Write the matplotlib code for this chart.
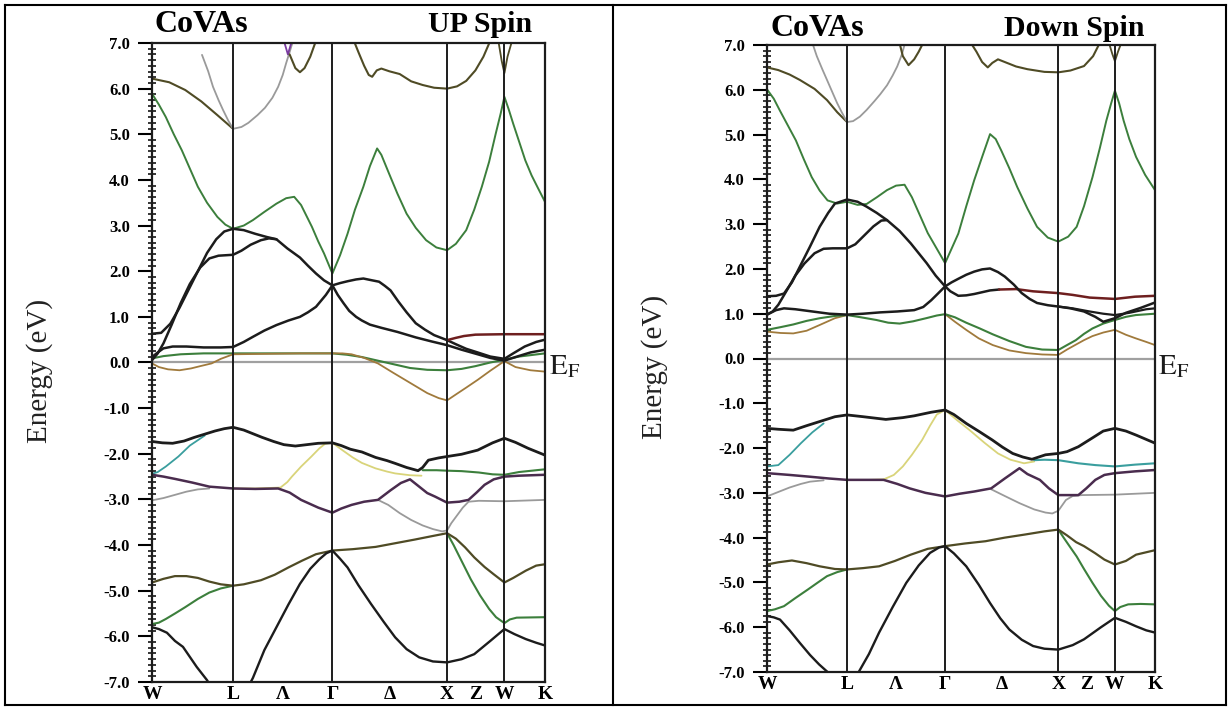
import matplotlib
matplotlib.use("Agg")
import matplotlib.pyplot as plt
from matplotlib.lines import Line2D
from matplotlib.ticker import MultipleLocator, FormatStrFormatter

plt.rcParams['mathtext.fontset'] = 'stix'

# k-path node positions (W, L, Gamma, X, W, K) and tick labels
K_NODES = [0.0, 0.707, 1.573, 2.573, 3.073, 3.427]
K_TICKS = [0.0, 0.707, 1.14, 1.573, 2.073, 2.573, 2.823, 3.073, 3.427]
K_LABELS = ['W', 'L', 'Λ', 'Γ', 'Δ', 'X', 'Z', 'W', 'K']

# ---------------- UP spin bands (k, E) ----------------
up_olive_wl = [(0, 6.22), (0.15, 6.14), (0.29, 5.97), (0.43, 5.72), (0.57, 5.42), (0.707, 5.12)]
up_gray = [(0.436, 6.74), (0.49, 6.38), (0.532, 6.04), (0.58, 5.75), (0.62, 5.53), (0.665, 5.3),
           (0.707, 5.12), (0.78, 5.16), (0.84, 5.25), (0.92, 5.42), (0.985, 5.58), (1.05, 5.8),
           (1.1, 6.04), (1.14, 6.3), (1.17, 6.56), (1.2, 6.8), (1.23, 7.05)]
up_purple_v = [(1.15, 7.05), (1.185, 6.75), (1.22, 7.05)]
up_olive_lam = [(1.2, 6.75), (1.25, 6.45), (1.29, 6.36), (1.33, 6.45), (1.38, 6.7), (1.43, 7.05)]
up_olive_gx = [(1.76, 7.05), (1.8, 6.8), (1.85, 6.5), (1.89, 6.3), (1.92, 6.26), (1.96, 6.4),
               (2.0, 6.44), (2.07, 6.38), (2.16, 6.32), (2.26, 6.16), (2.36, 6.08), (2.46, 6.02),
               (2.573, 6.0), (2.66, 6.05), (2.74, 6.17), (2.82, 6.4), (2.89, 6.7), (2.95, 7.05)]
up_olive_w = [(3.02, 7.05), (3.05, 6.6), (3.073, 6.34), (3.1, 6.7), (3.14, 7.05)]
up_green = [(0, 5.89), (0.06, 5.65), (0.12, 5.38), (0.19, 5.0), (0.26, 4.65), (0.33, 4.25),
            (0.4, 3.85), (0.48, 3.5), (0.57, 3.19), (0.64, 3.02), (0.707, 2.93), (0.8, 3.0),
            (0.88, 3.12), (0.98, 3.3), (1.085, 3.48), (1.17, 3.6), (1.24, 3.63), (1.3, 3.45),
            (1.395, 2.97), (1.45, 2.65), (1.5, 2.39), (1.573, 1.95), (1.64, 2.35), (1.705, 2.82),
            (1.77, 3.35), (1.843, 3.85), (1.9, 4.3), (1.963, 4.69), (2.0, 4.55), (2.067, 4.14),
            (2.14, 3.7), (2.22, 3.26), (2.3, 2.95), (2.39, 2.68), (2.48, 2.52), (2.573, 2.46),
            (2.65, 2.6), (2.74, 2.9), (2.81, 3.35), (2.876, 3.85), (2.94, 4.4), (2.997, 5.01),
            (3.04, 5.45), (3.073, 5.82), (3.11, 5.55), (3.15, 5.23), (3.2, 4.85), (3.255, 4.43),
            (3.31, 4.1), (3.36, 3.85), (3.427, 3.52)]
up_black1 = [(0, 0.63), (0.08, 0.65), (0.16, 0.85), (0.24, 1.2), (0.32, 1.6), (0.4, 2.0),
             (0.48, 2.4), (0.56, 2.7), (0.63, 2.87), (0.707, 2.93), (0.8, 2.9), (0.9, 2.82),
             (1.0, 2.75), (1.085, 2.7), (1.18, 2.5), (1.29, 2.3), (1.36, 2.12), (1.43, 1.95),
             (1.5, 1.8), (1.573, 1.69), (1.64, 1.74), (1.705, 1.78), (1.78, 1.82), (1.843, 1.84),
             (1.92, 1.8), (1.98, 1.77), (2.03, 1.68), (2.08, 1.58), (2.15, 1.33), (2.22, 1.1),
             (2.3, 0.86), (2.38, 0.72), (2.46, 0.6), (2.573, 0.49)]
up_red = [(2.573, 0.49), (2.65, 0.54), (2.72, 0.58), (2.82, 0.61), (3.073, 0.62), (3.427, 0.62)]
up_black2 = [(0, 0.05), (0.05, 0.2), (0.1, 0.42), (0.17, 0.82), (0.25, 1.3), (0.33, 1.72),
             (0.42, 2.08), (0.5, 2.28), (0.58, 2.34), (0.707, 2.36), (0.78, 2.45), (0.86, 2.58),
             (0.95, 2.68), (1.02, 2.72), (1.085, 2.7)]
up_black3 = [(0, 0.12), (0.05, 0.22), (0.1, 0.31), (0.18, 0.35), (0.3, 0.35), (0.45, 0.33),
             (0.6, 0.33), (0.707, 0.34), (0.8, 0.45), (0.878, 0.56), (0.98, 0.7), (1.085, 0.82),
             (1.19, 0.92), (1.29, 1.0), (1.36, 1.1), (1.43, 1.22), (1.516, 1.48), (1.573, 1.69),
             (1.62, 1.48), (1.67, 1.3), (1.72, 1.13), (1.78, 1.0), (1.83, 0.92), (1.9, 0.83),
             (2.0, 0.76), (2.14, 0.67), (2.3, 0.55), (2.44, 0.46), (2.573, 0.38), (2.7, 0.28),
             (2.84, 0.18), (2.95, 0.1), (3.073, 0.04), (3.17, 0.12), (3.3, 0.22), (3.427, 0.28)]
up_black4 = [(2.573, 0.49), (2.65, 0.4), (2.74, 0.3), (2.84, 0.22), (2.95, 0.13), (3.073, 0.08),
             (3.15, 0.2), (3.25, 0.35), (3.35, 0.45), (3.427, 0.5)]
up_green_ef = [(0, 0.09), (0.1, 0.14), (0.25, 0.18), (0.45, 0.2), (0.707, 0.2), (1.0, 0.2),
               (1.3, 0.2), (1.573, 0.2), (1.7, 0.17), (1.83, 0.12), (1.97, 0.04), (2.11, -0.04),
               (2.25, -0.12), (2.4, -0.16), (2.573, -0.17), (2.7, -0.14), (2.82, -0.08),
               (2.95, 0.0), (3.073, 0.06), (3.2, 0.13), (3.427, 0.2)]
up_orange_ef = [(0, -0.02), (0.06, -0.1), (0.14, -0.15), (0.24, -0.17), (0.34, -0.13),
                (0.42, -0.08), (0.52, -0.02), (0.6, 0.08), (0.707, 0.18), (1.0, 0.19),
                (1.3, 0.2), (1.573, 0.2), (1.66, 0.2), (1.74, 0.18), (1.85, 0.1), (1.97, -0.02),
                (2.1, -0.22), (2.26, -0.46), (2.4, -0.67), (2.5, -0.78), (2.573, -0.83),
                (2.65, -0.7), (2.74, -0.55), (2.84, -0.38), (2.95, -0.18), (3.073, 0.03),
                (3.17, -0.1), (3.3, -0.17), (3.427, -0.2)]
up_black_vb = [(0, -1.73), (0.09, -1.76), (0.18, -1.77), (0.28, -1.72), (0.37, -1.64),
               (0.46, -1.57), (0.55, -1.5), (0.63, -1.45), (0.707, -1.42), (0.8, -1.48),
               (0.88, -1.56), (0.96, -1.64), (1.06, -1.73), (1.15, -1.8), (1.25, -1.83),
               (1.35, -1.8), (1.45, -1.77), (1.573, -1.76), (1.65, -1.82), (1.73, -1.9),
               (1.83, -1.96), (1.95, -2.08), (2.05, -2.15), (2.12, -2.21), (2.22, -2.3),
               (2.32, -2.37), (2.36, -2.3), (2.41, -2.14), (2.5, -2.09), (2.573, -2.06),
               (2.7, -2.01), (2.84, -1.92), (2.97, -1.76), (3.073, -1.66), (3.17, -1.75),
               (3.28, -1.88), (3.427, -2.03)]
up_cyan_wl = [(0, -2.44), (0.05, -2.4), (0.12, -2.28), (0.23, -2.06), (0.33, -1.82), (0.46, -1.6)]
up_purple_vb = [(0, -2.46), (0.1, -2.5), (0.2, -2.55), (0.35, -2.63), (0.5, -2.72), (0.707, -2.76),
                (0.9, -2.77), (1.1, -2.76), (1.2, -2.85), (1.3, -3.01), (1.45, -3.18),
                (1.573, -3.29), (1.65, -3.2), (1.74, -3.12), (1.85, -3.05), (1.97, -3.01),
                (2.08, -2.8), (2.17, -2.64), (2.25, -2.56), (2.33, -2.72), (2.4, -2.86),
                (2.47, -2.94), (2.573, -3.07), (2.68, -3.05), (2.76, -3.01), (2.83, -2.85),
                (2.9, -2.68), (2.98, -2.56), (3.073, -2.5), (3.2, -2.48), (3.427, -2.46)]
up_yellow_l = [(0.707, -2.76), (0.9, -2.76), (1.12, -2.74), (1.18, -2.62), (1.22, -2.5),
               (1.3, -2.28), (1.39, -2.06), (1.46, -1.88), (1.51, -1.78), (1.573, -1.76)]
up_yellow_gx = [(1.573, -1.76), (1.66, -1.92), (1.75, -2.08), (1.83, -2.2), (1.95, -2.32),
                (2.05, -2.39), (2.12, -2.43), (2.25, -2.47), (2.35, -2.48)]
up_green_vb = [(2.36, -2.36), (2.48, -2.36), (2.573, -2.37), (2.7, -2.38), (2.85, -2.41),
               (2.97, -2.45), (3.073, -2.46), (3.2, -2.4), (3.427, -2.34)]
up_gray_wl = [(0, -3.02), (0.1, -2.97), (0.2, -2.9), (0.3, -2.83), (0.4, -2.78), (0.5, -2.76)]
up_gray_gx = [(1.97, -3.01), (2.06, -3.12), (2.16, -3.3), (2.26, -3.45), (2.36, -3.57),
              (2.45, -3.65), (2.53, -3.7), (2.573, -3.68), (2.61, -3.52), (2.66, -3.35),
              (2.71, -3.18), (2.76, -3.05), (2.85, -3.03), (3.073, -3.04), (3.427, -3.01)]
up_olive_d1 = [(0, -4.82), (0.1, -4.74), (0.2, -4.68), (0.3, -4.68), (0.4, -4.72), (0.5, -4.8),
               (0.6, -4.86), (0.707, -4.89), (0.8, -4.86), (0.95, -4.77), (1.07, -4.65),
               (1.19, -4.49), (1.31, -4.34), (1.43, -4.2), (1.573, -4.12), (1.75, -4.09),
               (1.95, -4.04), (2.12, -3.96), (2.29, -3.88), (2.45, -3.8), (2.573, -3.74),
               (2.65, -3.86), (2.73, -4.05), (2.81, -4.27), (2.9, -4.48), (2.98, -4.64),
               (3.073, -4.82), (3.15, -4.72), (3.26, -4.56), (3.35, -4.45), (3.427, -4.42)]
up_green_d2 = [(0, -5.73), (0.06, -5.7), (0.12, -5.62), (0.2, -5.5), (0.29, -5.36), (0.4, -5.18),
               (0.5, -5.04), (0.6, -4.95), (0.707, -4.89)]
up_green_xw = [(2.573, -3.74), (2.63, -4.0), (2.7, -4.35), (2.78, -4.75), (2.86, -5.1),
               (2.94, -5.4), (3.0, -5.58), (3.073, -5.71), (3.12, -5.63), (3.18, -5.59),
               (3.427, -5.58)]
up_black_d3a = [(0, -5.8), (0.06, -5.84), (0.13, -5.92), (0.2, -6.1), (0.27, -6.23),
                (0.33, -6.45), (0.39, -6.67), (0.48, -6.96), (0.55, -7.25)]
up_black_d3b = [(0.82, -7.2), (0.88, -6.91), (0.98, -6.3), (1.085, -5.8), (1.19, -5.3),
                (1.29, -4.85), (1.38, -4.52), (1.46, -4.31), (1.52, -4.18), (1.573, -4.12),
                (1.64, -4.3), (1.705, -4.49), (1.8, -4.88), (1.91, -5.29), (2.02, -5.68),
                (2.12, -6.02), (2.22, -6.28), (2.33, -6.46), (2.45, -6.55), (2.573, -6.57),
                (2.7, -6.5), (2.81, -6.39), (2.95, -6.1), (3.073, -5.84), (3.16, -5.95),
                (3.26, -6.06), (3.35, -6.14), (3.427, -6.2)]

# ---------------- DOWN spin bands (k, E) ----------------
dn_olive_wl = [(0, 6.5), (0.1, 6.44), (0.2, 6.34), (0.29, 6.22), (0.42, 6.02), (0.53, 5.77),
               (0.62, 5.5), (0.707, 5.28)]
dn_gray = [(0.4, 7.05), (0.44, 6.75), (0.49, 6.45), (0.53, 6.22), (0.58, 5.93), (0.62, 5.7),
           (0.66, 5.5), (0.707, 5.28), (0.76, 5.3), (0.82, 5.4), (0.88, 5.55), (0.95, 5.75),
           (1.0, 5.9), (1.06, 6.1), (1.11, 6.32), (1.15, 6.52), (1.19, 6.78), (1.22, 7.05)]
dn_olive_lam = [(1.17, 7.05), (1.2, 6.75), (1.25, 6.55), (1.3, 6.68), (1.34, 6.85), (1.38, 7.05)]
dn_olive_gx = [(1.8, 7.05), (1.85, 6.85), (1.9, 6.62), (1.95, 6.5), (1.99, 6.6), (2.04, 6.68),
               (2.12, 6.6), (2.2, 6.52), (2.3, 6.46), (2.45, 6.4), (2.573, 6.39), (2.68, 6.43),
               (2.8, 6.53), (2.88, 6.75), (2.94, 7.05)]
dn_olive_w = [(3.02, 7.05), (3.05, 6.8), (3.073, 6.64), (3.1, 6.85), (3.13, 7.05)]
dn_green = [(0, 6.01), (0.06, 5.8), (0.115, 5.53), (0.185, 5.2), (0.255, 4.87), (0.325, 4.45),
            (0.395, 4.05), (0.465, 3.75), (0.535, 3.53), (0.62, 3.46), (0.707, 3.5), (0.8, 3.43),
            (0.88, 3.45), (0.97, 3.6), (1.06, 3.76), (1.14, 3.86), (1.215, 3.88), (1.28, 3.6),
            (1.35, 3.2), (1.42, 2.8), (1.5, 2.45), (1.573, 2.13), (1.63, 2.45), (1.69, 2.79),
            (1.76, 3.4), (1.83, 3.98), (1.9, 4.5), (1.97, 5.01), (2.02, 4.9), (2.07, 4.64),
            (2.14, 4.25), (2.21, 3.83), (2.3, 3.35), (2.385, 2.94), (2.48, 2.7), (2.573, 2.61),
            (2.66, 2.72), (2.735, 2.94), (2.8, 3.4), (2.875, 4.05), (2.94, 4.7), (2.997, 5.31),
            (3.04, 5.7), (3.073, 5.98), (3.11, 5.7), (3.15, 5.31), (3.2, 4.9), (3.26, 4.5),
            (3.34, 4.1), (3.427, 3.76)]
dn_black1 = [(0, 1.39), (0.08, 1.4), (0.15, 1.45), (0.22, 1.7), (0.29, 2.05), (0.38, 2.5),
             (0.465, 2.94), (0.54, 3.25), (0.6, 3.46), (0.707, 3.55), (0.8, 3.5), (0.88, 3.39),
             (0.97, 3.25), (1.06, 3.09), (1.17, 2.85), (1.27, 2.57), (1.34, 2.35), (1.41, 2.13),
             (1.49, 1.85), (1.573, 1.61), (1.63, 1.7), (1.69, 1.78), (1.76, 1.87), (1.83, 1.94),
             (1.9, 1.99), (1.97, 2.01), (2.04, 1.93), (2.1, 1.83), (2.18, 1.65), (2.25, 1.46),
             (2.32, 1.33), (2.385, 1.24), (2.48, 1.19), (2.573, 1.16), (2.68, 1.12), (2.8, 1.05),
             (2.9, 0.93), (2.97, 0.82), (3.073, 0.9), (3.17, 1.02), (3.3, 1.13), (3.427, 1.25)]
dn_black2 = [(0, 0.98), (0.05, 1.05), (0.1, 1.2), (0.17, 1.5), (0.25, 1.85), (0.33, 2.12),
             (0.42, 2.35), (0.5, 2.45), (0.58, 2.46), (0.707, 2.46), (0.78, 2.55), (0.86, 2.75),
             (0.94, 2.95), (1.01, 3.08), (1.06, 3.09)]
dn_black3 = [(0, 0.98), (0.08, 1.08), (0.15, 1.12), (0.25, 1.1), (0.4, 1.05), (0.55, 1.0),
             (0.707, 0.98), (0.85, 1.0), (1.0, 1.03), (1.15, 1.05), (1.3, 1.08), (1.38, 1.15),
             (1.45, 1.3), (1.51, 1.45), (1.573, 1.61), (1.62, 1.5), (1.69, 1.4), (1.76, 1.41),
             (1.83, 1.44), (1.9, 1.48), (1.97, 1.52), (2.05, 1.54)]
dn_red = [(2.05, 1.54), (2.2, 1.55), (2.35, 1.5), (2.573, 1.46), (2.7, 1.42), (2.85, 1.36),
          (3.073, 1.33), (3.25, 1.38), (3.427, 1.4)]
dn_black4 = [(2.573, 1.16), (2.7, 1.12), (2.85, 1.05), (2.97, 1.0), (3.073, 0.97), (3.2, 1.02),
             (3.35, 1.1), (3.427, 1.12)]
dn_green_ef = [(0, 0.64), (0.12, 0.7), (0.232, 0.76), (0.35, 0.84), (0.467, 0.9), (0.6, 0.95),
               (0.707, 0.97), (0.83, 0.92), (0.966, 0.86), (1.07, 0.8), (1.172, 0.78),
               (1.29, 0.83), (1.406, 0.9), (1.5, 0.96), (1.573, 0.99), (1.66, 0.92),
               (1.759, 0.8), (1.88, 0.67), (1.994, 0.54), (2.14, 0.39), (2.287, 0.26),
               (2.43, 0.2), (2.573, 0.19), (2.65, 0.3), (2.728, 0.41), (2.8, 0.55),
               (2.874, 0.67), (2.97, 0.78), (3.073, 0.86), (3.17, 0.93), (3.257, 0.97),
               (3.427, 1.0)]
dn_orange_wl = [(0, 0.6), (0.12, 0.57), (0.232, 0.56), (0.35, 0.62), (0.467, 0.75), (0.6, 0.9),
                (0.707, 0.97)]
dn_orange_gx = [(1.573, 0.99), (1.66, 0.82), (1.759, 0.64), (1.87, 0.45), (1.994, 0.3),
                (2.14, 0.18), (2.287, 0.12), (2.43, 0.09), (2.573, 0.08), (2.65, 0.2),
                (2.728, 0.31), (2.8, 0.41), (2.874, 0.5), (2.97, 0.58), (3.073, 0.64),
                (3.17, 0.53), (3.257, 0.45), (3.35, 0.37), (3.427, 0.3)]
dn_black_vb = [(0, -1.56), (0.1, -1.58), (0.232, -1.6), (0.35, -1.5), (0.5, -1.38), (0.6, -1.3),
               (0.707, -1.26), (0.85, -1.3), (1.05, -1.36), (1.2, -1.32), (1.3, -1.28),
               (1.45, -1.2), (1.573, -1.15), (1.65, -1.25), (1.76, -1.45), (1.88, -1.64),
               (1.99, -1.82), (2.08, -1.98), (2.17, -2.12), (2.26, -2.2), (2.34, -2.25),
               (2.46, -2.15), (2.573, -2.12), (2.65, -2.08), (2.75, -1.97), (2.87, -1.78),
               (2.97, -1.62), (3.073, -1.56), (3.17, -1.62), (3.26, -1.71), (3.427, -1.89)]
dn_cyan_wl = [(0, -2.41), (0.1, -2.38), (0.2, -2.15), (0.3, -1.89), (0.4, -1.65), (0.5, -1.45)]
dn_purple_vb = [(0, -2.56), (0.2, -2.6), (0.38, -2.64), (0.55, -2.68), (0.707, -2.71),
                (0.9, -2.71), (1.03, -2.71), (1.15, -2.8), (1.26, -2.9), (1.4, -3.0),
                (1.573, -3.08), (1.7, -3.02), (1.83, -2.97), (1.98, -2.9), (2.1, -2.68),
                (2.23, -2.45), (2.3, -2.58), (2.41, -2.71), (2.49, -2.9), (2.573, -3.05),
                (2.75, -3.05), (2.82, -2.9), (2.9, -2.71), (2.98, -2.6), (3.073, -2.56),
                (3.25, -2.52), (3.427, -2.49)]
dn_gray_wl = [(0, -3.08), (0.1, -2.98), (0.2, -2.88), (0.3, -2.8), (0.38, -2.75), (0.5, -2.72)]
dn_gray_gx = [(1.98, -2.92), (2.1, -3.07), (2.23, -3.23), (2.36, -3.37), (2.46, -3.44),
              (2.52, -3.46), (2.573, -3.4), (2.64, -3.16), (2.7, -3.07), (2.78, -3.05),
              (3.073, -3.04), (3.427, -3.0)]
dn_yellow_l = [(0.707, -2.71), (0.9, -2.71), (1.03, -2.7), (1.12, -2.6), (1.2, -2.41),
               (1.28, -2.15), (1.37, -1.82), (1.44, -1.5), (1.5, -1.25), (1.573, -1.15)]
dn_yellow_gx = [(1.573, -1.15), (1.68, -1.38), (1.79, -1.6), (1.92, -1.88), (2.04, -2.12),
                (2.15, -2.26), (2.27, -2.34), (2.36, -2.3)]
dn_cyan_xk = [(2.36, -2.27), (2.45, -2.26), (2.573, -2.27), (2.75, -2.34), (2.9, -2.38),
              (3.073, -2.41), (3.25, -2.37), (3.427, -2.34)]
dn_olive_d1 = [(0, -4.6), (0.1, -4.55), (0.22, -4.51), (0.35, -4.57), (0.465, -4.64), (0.6, -4.7),
               (0.707, -4.71), (0.85, -4.68), (0.99, -4.64), (1.13, -4.52), (1.27, -4.38),
               (1.42, -4.25), (1.573, -4.19), (1.75, -4.13), (1.93, -4.08), (2.1, -4.0),
               (2.28, -3.93), (2.45, -3.86), (2.573, -3.82), (2.65, -3.95), (2.73, -4.1),
               (2.8, -4.19), (2.9, -4.35), (2.98, -4.49), (3.073, -4.6), (3.17, -4.52),
               (3.26, -4.38), (3.427, -4.28)]
dn_green_d2 = [(0, -5.64), (0.07, -5.6), (0.15, -5.53), (0.25, -5.35), (0.36, -5.16), (0.45, -5.0),
               (0.53, -4.86), (0.62, -4.77), (0.707, -4.71)]
dn_green_xw = [(2.573, -3.82), (2.62, -4.0), (2.68, -4.22), (2.735, -4.42), (2.8, -4.7),
               (2.875, -5.01), (2.95, -5.3), (3.02, -5.52), (3.073, -5.64), (3.12, -5.55),
               (3.19, -5.49), (3.3, -5.48), (3.427, -5.49)]
dn_black_d3a = [(0, -5.75), (0.06, -5.78), (0.115, -5.83), (0.2, -6.07), (0.29, -6.35),
                (0.38, -6.62), (0.46, -6.83), (0.535, -7.0), (0.6, -7.2)]
dn_black_d3b = [(0.78, -7.2), (0.81, -7.0), (0.9, -6.6), (0.99, -6.12), (1.11, -5.55),
                (1.23, -5.01), (1.34, -4.62), (1.44, -4.34), (1.52, -4.22), (1.573, -4.19),
                (1.65, -4.35), (1.76, -4.64), (1.87, -5.05), (1.97, -5.46), (2.06, -5.8),
                (2.14, -6.05), (2.25, -6.28), (2.35, -6.42), (2.45, -6.48), (2.573, -6.5),
                (2.7, -6.4), (2.8, -6.27), (2.95, -6.0), (3.073, -5.79), (3.17, -5.88),
                (3.26, -5.98), (3.35, -6.07), (3.427, -6.12)]

# colours
BLACK = '#1c1c1c'
OLIVE = '#4f4b25'
GREEN = '#3c7f3c'
GRAY = '#9a9a9a'
PURPLE = '#4a2c4e'
VIOLET = '#7a3aa0'
CYAN = '#3a9e9e'
YELLOW = '#d9d47a'
ORANGE = '#a07a3c'
RED = '#6e1f1f'

up_bands = [
    (up_olive_wl, OLIVE, 1.5), (up_gray, GRAY, 1.3), (up_purple_v, VIOLET, 1.3),
    (up_olive_lam, OLIVE, 1.5), (up_olive_gx, OLIVE, 1.5), (up_olive_w, OLIVE, 1.3),
    (up_green, GREEN, 1.4),
    (up_green_ef, GREEN, 1.5), (up_orange_ef, ORANGE, 1.3),
    (up_black2, BLACK, 1.8), (up_black3, BLACK, 1.8), (up_black4, BLACK, 1.8),
    (up_black1, BLACK, 1.8), (up_red, RED, 1.8),
    (up_gray_wl, GRAY, 1.3), (up_gray_gx, GRAY, 1.3),
    (up_yellow_l, YELLOW, 1.3), (up_yellow_gx, YELLOW, 1.3), (up_green_vb, GREEN, 1.5),
    (up_cyan_wl, CYAN, 1.3), (up_purple_vb, PURPLE, 1.8), (up_black_vb, BLACK, 2.0),
    (up_green_d2, GREEN, 1.5), (up_green_xw, GREEN, 1.5), (up_olive_d1, OLIVE, 1.6),
    (up_black_d3a, BLACK, 1.7), (up_black_d3b, BLACK, 1.7),
]
dn_bands = [
    (dn_olive_wl, OLIVE, 1.5), (dn_gray, GRAY, 1.3), (dn_olive_lam, OLIVE, 1.5),
    (dn_olive_gx, OLIVE, 1.5), (dn_olive_w, OLIVE, 1.3), (dn_green, GREEN, 1.4),
    (dn_orange_wl, ORANGE, 1.3), (dn_orange_gx, ORANGE, 1.3), (dn_green_ef, GREEN, 1.5),
    (dn_black2, BLACK, 1.8), (dn_black3, BLACK, 1.8), (dn_red, RED, 1.8),
    (dn_black4, BLACK, 1.6), (dn_black1, BLACK, 1.8),
    (dn_gray_wl, GRAY, 1.3), (dn_gray_gx, GRAY, 1.3),
    (dn_yellow_l, YELLOW, 1.3), (dn_yellow_gx, YELLOW, 1.3), (dn_cyan_xk, CYAN, 1.5),
    (dn_cyan_wl, CYAN, 1.3), (dn_purple_vb, PURPLE, 1.8), (dn_black_vb, BLACK, 2.0),
    (dn_green_d2, GREEN, 1.5), (dn_green_xw, GREEN, 1.5), (dn_olive_d1, OLIVE, 1.6),
    (dn_black_d3a, BLACK, 1.7), (dn_black_d3b, BLACK, 1.7),
]

W_PX, H_PX = 1231, 708
fig = plt.figure(figsize=(W_PX / 100, H_PX / 100), dpi=100)


def fx(px):
    return px / W_PX


def fy(py):
    return 1 - py / H_PX


SERIF = 'Liberation Serif'


def draw_panel(rect, bands, spin_label, ef_xy, title_y):
    left, top, right, bottom = rect
    ax = fig.add_axes([fx(left), fy(bottom), fx(right - left), fy(top) - fy(bottom)])
    ax.axhline(0, color='#a0a0a0', lw=1.6, zorder=1)
    for pos in K_NODES[1:-1]:
        ax.axvline(pos, color=BLACK, lw=1.4, zorder=3)
    for pts, col, lw in bands:
        ks = [p[0] for p in pts]
        es = [p[1] for p in pts]
        ax.plot(ks, es, color=col, lw=lw, solid_capstyle='round', zorder=2)
    ax.set_xlim(K_NODES[0], K_NODES[-1])
    ax.set_ylim(-7, 7)
    ax.set_xticks(K_TICKS)
    ax.set_xticklabels(K_LABELS, fontfamily=SERIF, fontweight='bold', fontsize=14)
    ax.tick_params(axis='x', length=0, pad=3)
    ax.yaxis.set_major_locator(MultipleLocator(1.0))
    ax.yaxis.set_minor_locator(MultipleLocator(0.125))
    ax.yaxis.set_major_formatter(FormatStrFormatter('%.1f'))
    ax.tick_params(axis='y', which='major', direction='out', length=10, width=1.5, pad=6,
                   labelsize=12)
    ax.tick_params(axis='y', which='minor', direction='inout', length=6, width=1.1)
    for lab in ax.get_yticklabels():
        lab.set_fontfamily(SERIF)
        lab.set_fontweight('bold')
    for sp in ax.spines.values():
        sp.set_linewidth(1.6)
        sp.set_color(BLACK)
    # titles
    fig.text(fx(left + 3), fy(title_y), 'CoVAs', fontfamily=SERIF, fontweight='bold',
             fontsize=23, ha='left', va='baseline')
    fig.text(fx(spin_label[1]), fy(title_y), spin_label[0], fontfamily=SERIF,
             fontweight='bold', fontsize=21.5, ha='right', va='baseline')
    fig.text(fx(ef_xy[0]), fy(ef_xy[1]), r'$\mathrm{E_F}$', fontsize=21, ha='left',
             va='baseline', color=BLACK)
    fig.text(fx(left - 112), fy((top + bottom) / 2 + 8), 'Energy (eV)', rotation=90,
             fontfamily=SERIF, fontsize=21, ha='center', va='center', color='#222222')
    return ax


draw_panel((152, 43, 545, 682), up_bands, ('UP Spin', 532), (549, 374), 32)
draw_panel((767, 45, 1155, 672), dn_bands, ('Down Spin', 1145), (1158, 374), 36)

# outer table frame
for x0, y0, x1, y1 in [(5, 5, 1226, 5), (5, 705, 1226, 705), (5, 5, 5, 705),
                       (1226, 5, 1226, 705), (613, 5, 613, 705)]:
    fig.add_artist(Line2D([fx(x0), fx(x1)], [fy(y0), fy(y1)], color='black', lw=1.5))

fig.savefig('out.png', dpi=100)
